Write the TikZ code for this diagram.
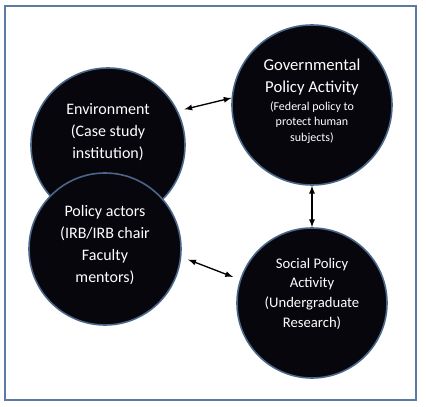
\documentclass[tikz,border=0pt]{standalone}
\usepackage{fontspec}
\setmainfont{Carlito}
\usetikzlibrary{arrows,positioning}
\definecolor{frameblue}{HTML}{5B7BA3}
\definecolor{blobline}{HTML}{4A6688}
\definecolor{blobfill}{HTML}{06060C}
\tikzset{
    blob/.style={circle, draw=blobline, line width=1.2pt, fill=blobfill, inner sep=0pt},
    blob text/.style={text=white, align=center, font=\fontsize{12}{16.5}\selectfont},
    title text/.style={text=white, align=center, font=\fontsize{12.5}{17}\selectfont},
    small text/.style={text=white, align=center, font=\fontsize{9}{11.5}\selectfont},
    social text/.style={text=white, align=center, font=\fontsize{11}{14.8}\selectfont},
    link/.style={<->, line width=1pt, >=latex}
}
\begin{document}
\begin{tikzpicture}[x=0.75pt, y=-0.75pt]
	\useasboundingbox (0,0) rectangle (426,407);
	\draw[frameblue, line width=1.5pt] (5,6) rectangle (416,400);
	% circles
	\node[blob, minimum size=115.5pt] (env) at (108,145) {};
	\node[blob, minimum size=114pt] (actors) at (105,249) {};
	\node[blob, minimum size=120pt] (gov) at (312,105) {};
	\node[blob, minimum size=112.5pt] (social) at (312,303) {};
	% texts
	\node[blob text] (env text) at ([yshift=10pt]env.center) {Environment\\(Case study\\institution)};
	\node[blob text] (actors text) at ([yshift=3pt]actors.center) {Policy actors\\(IRB/IRB chair\\Faculty\\mentors)};
	\node[title text] (gov title) at ([yshift=21pt]gov.center) {Governmental\\Policy Activity};
	\node[small text] (gov note) at ([yshift=-13pt]gov.center) {(Federal policy to\\protect human\\subjects)};
	\node[social text] (social text) at ([yshift=7pt]social.center) {Social Policy\\Activity\\(Undergraduate\\Research)};
	% links
	\draw[link, shorten <=5pt] (env.26) -- (gov.175);
	\draw[link] (gov.south) -- (social.north);
	\draw[link, shorten <=5.5pt, shorten >=5.5pt] (actors.-6) -- (social.162);
\end{tikzpicture}
\end{document}
